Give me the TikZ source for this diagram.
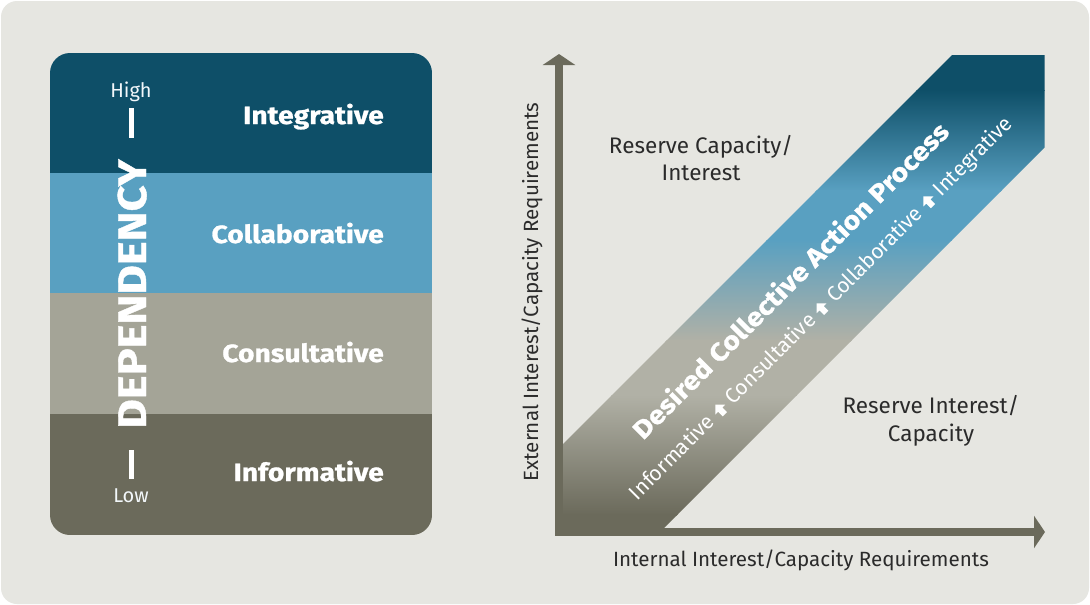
\documentclass[tikz,border=0pt]{standalone}
\usepackage{fontspec}
\setmainfont{Fira Sans}
\newfontfamily\wideb{Fira Sans}[FakeStretch=1.13, FakeBold=1]
\usetikzlibrary{arrows.meta}
\definecolor{bgc}{HTML}{E6E6E1}
\definecolor{tealc}{HTML}{0E4F68}
\definecolor{bluec}{HTML}{59A0C1}
\definecolor{lgrayc}{HTML}{A4A497}
\definecolor{dgrayc}{HTML}{6B6A5B}
\definecolor{bandgray}{HTML}{B1B1A6}
\definecolor{txtc}{HTML}{2B2B2B}
\tikzset{
  bandlabel/.style={text=white, inner sep=0pt, anchor=base east, font=\wideb\fontsize{25}{30}\selectfont\bfseries},
  lvl/.style={text=white!92!bluec, inner sep=0pt, anchor=base, font=\fontsize{20}{24}\selectfont},
  quad/.style={text=txtc, inner sep=0pt, anchor=base, font=\fontsize{22.5}{26}\selectfont},
  axlabel/.style={text=txtc, inner sep=0pt, anchor=base, font=\fontsize{20.6}{24}\selectfont},
  axisline/.style={draw=dgrayc, line width=8pt, line join=miter,
    {Triangle[width=32pt,length=11pt]}-{Triangle[width=32pt,length=11pt]}},
  tickbar/.style={draw=white, line width=5pt},
  diagtext/.style={text=white, inner sep=0pt, anchor=base, rotate=45},
}
\newcommand{\uparr}{\tikz[x=1pt,y=1pt,baseline=0pt]\fill[white] (-3,0) -- (3,0) -- (3,6.5) -- (7,6.5) -- (0,13.5) -- (-7,6.5) -- (-3,6.5) -- cycle;}
\begin{document}
\begin{tikzpicture}[x=1pt,y=-1pt]
\useasboundingbox (0,0) rectangle (1090,605);
\fill[white] (0,0) rectangle (1090,605);
\fill[bgc, rounded corners=16pt] (1,1) rectangle (1089,604);

% left panel
\begin{scope}
\clip[rounded corners=20pt] (50,53) rectangle (432,535);
\fill[tealc] (50,53) rectangle (432,173);
\fill[bluec] (50,173) rectangle (432,293);
\fill[lgrayc] (50,293) rectangle (432,414);
\fill[dgrayc] (50,414) rectangle (432,535);
\end{scope}

\node[bandlabel] (integ) at (384,124) {Integrative};
\node[bandlabel] (collab) at (384,243) {Collaborative};
\node[bandlabel] (consul) at (384,362) {Consultative};
\node[bandlabel] (inform) at (384,481) {Informative};

\node[lvl] (high) at (131,97) {High};
\node[lvl] (low) at (131,502) {Low};
\coordinate (hb1) at (131,108);
\coordinate (hb2) at (131,138);
\coordinate (lb1) at (131,450);
\coordinate (lb2) at (131,479);
\draw[tickbar] (hb1) -- (hb2);
\draw[tickbar] (lb1) -- (lb2);
\node[text=white, inner sep=0pt, anchor=base, rotate=90,
  font=\wideb\fontsize{40}{44}\selectfont\bfseries] (dep) at (146,294) {DEPENDENCY};

% diagonal band with gradient
\begin{scope}
\clip (559,448) -- (952,55) -- (1044.5,55) -- (1044.5,147.5) -- (660,532) -- (559,532) -- cycle;
\fill[tealc] (540,50) rectangle (1050,91);
\shade[top color=tealc, bottom color=bluec] (540,90) rectangle (1050,191);
\fill[bluec] (540,190) rectangle (1050,241);
\shade[top color=bluec, bottom color=bandgray] (540,240) rectangle (1050,341);
\fill[bandgray] (540,340) rectangle (1050,396);
\shade[top color=bandgray, bottom color=dgrayc] (540,395) rectangle (1050,515);
\fill[dgrayc] (540,514) rectangle (1050,540);
\end{scope}

% axes
\coordinate (ytip) at (559,54);
\coordinate (orig) at (559,532);
\coordinate (xtip) at (1045,532);
\draw[axisline] (ytip) -- (orig) -- (xtip);

% band texts
\node[diagtext, font=\wideb\fontsize{25.5}{30}\selectfont\bfseries] (title) at (797,287)
  {Desired Collective Action Process};
\node[diagtext, font=\fontsize{21}{25}\selectfont] (steps) at (826,313)
  {Informative \uparr\ Consultative \uparr\ Collaborative \uparr\ Integrative};

% quadrant labels
\node[quad] (rc1) at (701,153) {Reserve Capacity/};
\node[quad] (rc2) at (701,180) {Interest};
\node[quad] (ri1) at (931,413) {Reserve Interest/};
\node[quad] (ri2) at (931,441) {Capacity};

% axis labels
\node[axlabel] (xlab) at (801,566) {Internal Interest/Capacity Requirements};
\node[axlabel, rotate=90] (ylab) at (538,292) {External Interest/Capacity Requirements};
\end{tikzpicture}
\end{document}
